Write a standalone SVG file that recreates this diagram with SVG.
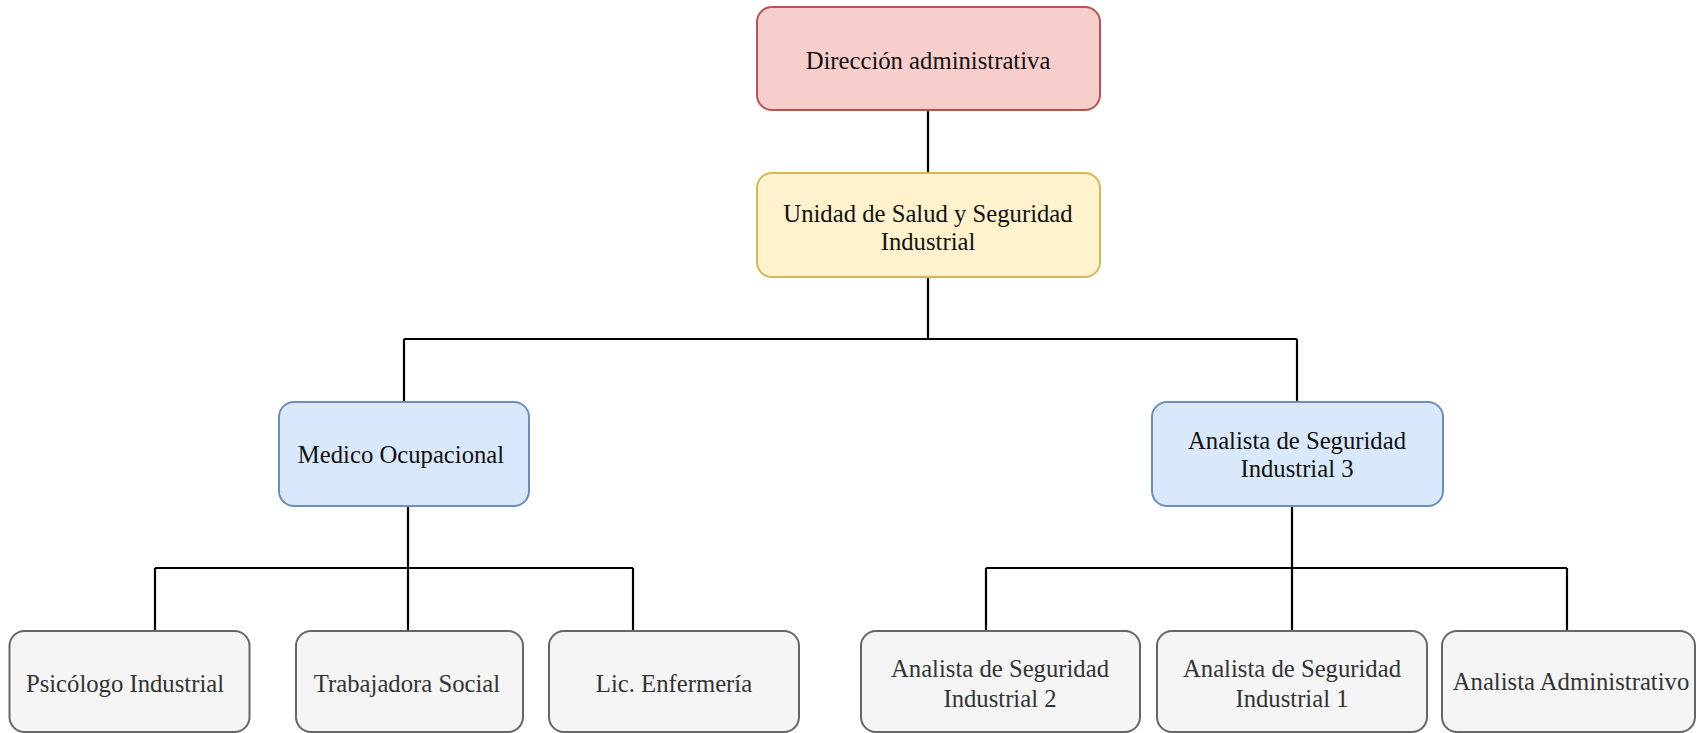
<svg xmlns="http://www.w3.org/2000/svg" width="1697" height="733" viewBox="0 0 1697 733">
<style>
  .box { stroke-width: 2; }
  .red { fill: #f8cecc; stroke: #b85450; }
  .yellow { fill: #fff2cc; stroke: #d6b656; }
  .blue { fill: #dae8fc; stroke: #6c8ebf; }
  .grey { fill: #f5f5f5; stroke: #666666; }
  text { font-family: "Liberation Serif", "Times New Roman", serif; font-size: 24.7px; text-anchor: middle; fill: #111111; }
  .gt { fill: #333333; }
  .conn { fill: none; stroke: #000000; stroke-width: 2.2; }
</style>
<rect width="1697" height="733" fill="#ffffff"/>
<g id="connectors">
  <path class="conn" d="M928,110 V173"/>
  <path class="conn" d="M928,277 V339 M404,339 H1297 M404,339 V402 M1297,339 V402"/>
  <path class="conn" d="M408,506 V568 M155,568 H633 M155,568 V631 M408,568 V631 M633,568 V631"/>
  <path class="conn" d="M1292,506 V568 M986,568 H1567 M986,568 V631 M1292,568 V631 M1567,568 V631"/>
</g>
<g id="direccion">
  <rect class="box red" x="757" y="7" width="343" height="103" rx="15"/>
  <text x="928" y="69">Dirección administrativa</text>
</g>
<g id="unidad">
  <rect class="box yellow" x="757" y="173" width="343" height="104" rx="15"/>
  <text x="928" y="222">Unidad de Salud y Seguridad</text>
  <text x="928" y="250">Industrial</text>
</g>
<g id="medico">
  <rect class="box blue" x="279" y="402" width="250" height="104" rx="15"/>
  <text x="401" y="463">Medico Ocupacional</text>
</g>
<g id="analista3">
  <rect class="box blue" x="1152" y="402" width="291" height="104" rx="15"/>
  <text x="1297" y="449">Analista de Seguridad</text>
  <text x="1297" y="477">Industrial 3</text>
</g>
<g id="psicologo">
  <rect class="box grey" x="9.5" y="631" width="240" height="101" rx="15"/>
  <text class="gt" x="125" y="692">Psicólogo Industrial</text>
</g>
<g id="trabajadora">
  <rect class="box grey" x="296" y="631" width="227" height="101" rx="15"/>
  <text class="gt" x="407" y="692">Trabajadora Social</text>
</g>
<g id="enfermeria">
  <rect class="box grey" x="549" y="631" width="250" height="101" rx="15"/>
  <text class="gt" x="674" y="692">Lic. Enfermería</text>
</g>
<g id="analista2">
  <rect class="box grey" x="861" y="631" width="279" height="101" rx="15"/>
  <text class="gt" x="1000" y="677">Analista de Seguridad</text>
  <text class="gt" x="1000" y="707">Industrial 2</text>
</g>
<g id="analista1">
  <rect class="box grey" x="1157" y="631" width="270" height="101" rx="15"/>
  <text class="gt" x="1292" y="677">Analista de Seguridad</text>
  <text class="gt" x="1292" y="707">Industrial 1</text>
</g>
<g id="analista-admin">
  <rect class="box grey" x="1442" y="631" width="253" height="101" rx="15"/>
  <text class="gt" x="1571" y="690">Analista Administrativo</text>
</g>
</svg>
